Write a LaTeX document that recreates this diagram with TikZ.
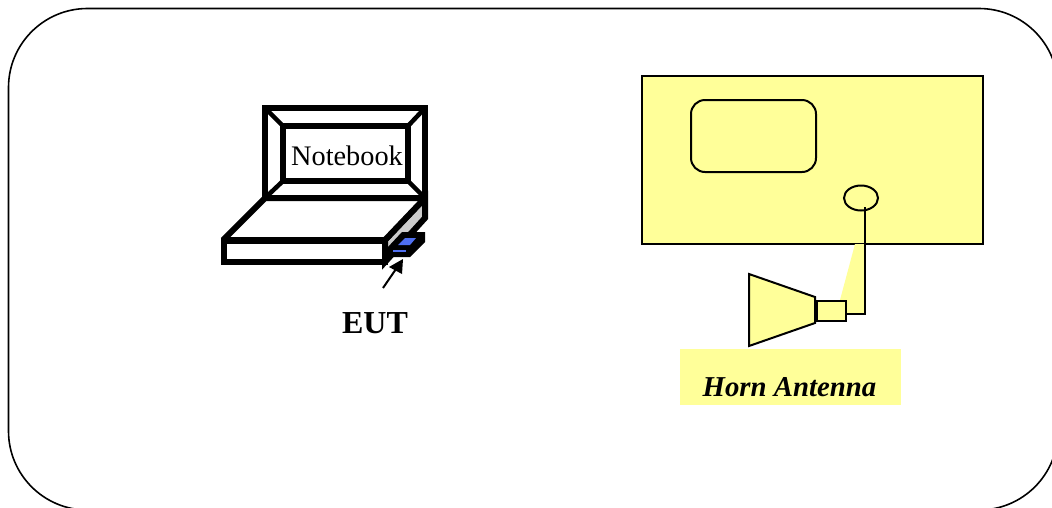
\documentclass[tikz,border=0pt]{standalone}
\usepackage{fontspec}
\usetikzlibrary{shapes.geometric}
\setmainfont{Liberation Serif}
\definecolor{paleyellow}{HTML}{FFFF99}
\definecolor{cardblue}{HTML}{4F6FF0}
\definecolor{sidegrey}{HTML}{CCCCCC}
\tikzset{
  thickline/.style={draw=black,line width=6pt,line join=miter,fill=white},
  thinline/.style={draw=black,line width=2pt},
  lbl/.style={inner sep=0pt,text=black}
}
\begin{document}
\begin{tikzpicture}[x=1pt,y=-1pt]
\useasboundingbox (0,0) rectangle (1052,507);
\path[clip] (0,0) rectangle (1052,507);
% frame
\draw[line width=1.6pt,rounded corners=79pt] (8.5,8.5) rectangle (1058,510);
% laptop
\draw[thickline] (265,108) rectangle (425,198);
\draw[thickline] (283,126) rectangle (408,181);
\draw[thickline,line width=4.5pt] (265,108) -- (283,126) (425,108) -- (408,126) (265,198) -- (283,181) (425,198) -- (408,181);
\draw[thickline,fill=sidegrey] (385,240) -- (425,198) -- (425,218) -- (385,262) -- cycle;
\draw[thickline,miter limit=2] (265,198) -- (425,198) -- (385,240) -- (223,240) -- cycle;
\draw[thickline] (224,241) rectangle (385,262);
\fill[black] (402,232) -- (425,232) -- (425,242) -- (410,257) -- (387,257) -- (387,248) -- cycle;
\fill[cardblue] (398,245) -- (405,238) -- (416,238) -- (410,245) -- cycle;
\draw[cardblue,line width=2pt] (393,251) -- (406,251);
\node[lbl,font=\fontsize{28.3}{30}\selectfont] (nb) at (347,155.5) {Notebook};
% arrow
\coordinate (arrowstart) at (383,288);
\coordinate (arrowend) at (403,259);
\draw[line width=2pt] (arrowstart) -- (396,269);
\fill (arrowend) -- (389,267) -- (402,274) -- cycle;
\node[lbl,font=\fontsize{32}{36}\selectfont\bfseries] (eut) at (375,323) {EUT};
% instrument
\draw[fill=paleyellow,thinline] (642,76) rectangle (983,244);
\fill[paleyellow] (855,244) -- (840,300) -- (845,300) -- (845,314) -- (865,314) -- (865,244) -- cycle;
\draw[thinline,rounded corners=14pt] (691,100) rectangle (816,172);
\node[draw,line width=2pt,ellipse,minimum width=34pt,minimum height=25pt,inner sep=0pt] (port) at (861,198) {};
% antenna
\draw[fill=paleyellow,thinline] (749,274) -- (815,297) -- (815,323) -- (749,346) -- cycle;
\node[draw,fill=paleyellow,line width=2.5pt,minimum width=29pt,minimum height=20pt,inner sep=0pt,anchor=north west] (feed) at (815.5,299.5) {};
\coordinate (portend) at (865,207);
\coordinate (elbow) at (865,314);
\draw[thinline] (portend) -- (elbow) -- (feed.east |- elbow);
\node[fill=paleyellow,inner sep=0pt,minimum width=221pt,minimum height=56pt,anchor=north west] (hornbox) at (680,349) {};
\node[lbl,font=\fontsize{28.8}{30}\selectfont\bfseries\itshape] (horn) at (789.5,387) {Horn Antenna};
\end{tikzpicture}
\end{document}
